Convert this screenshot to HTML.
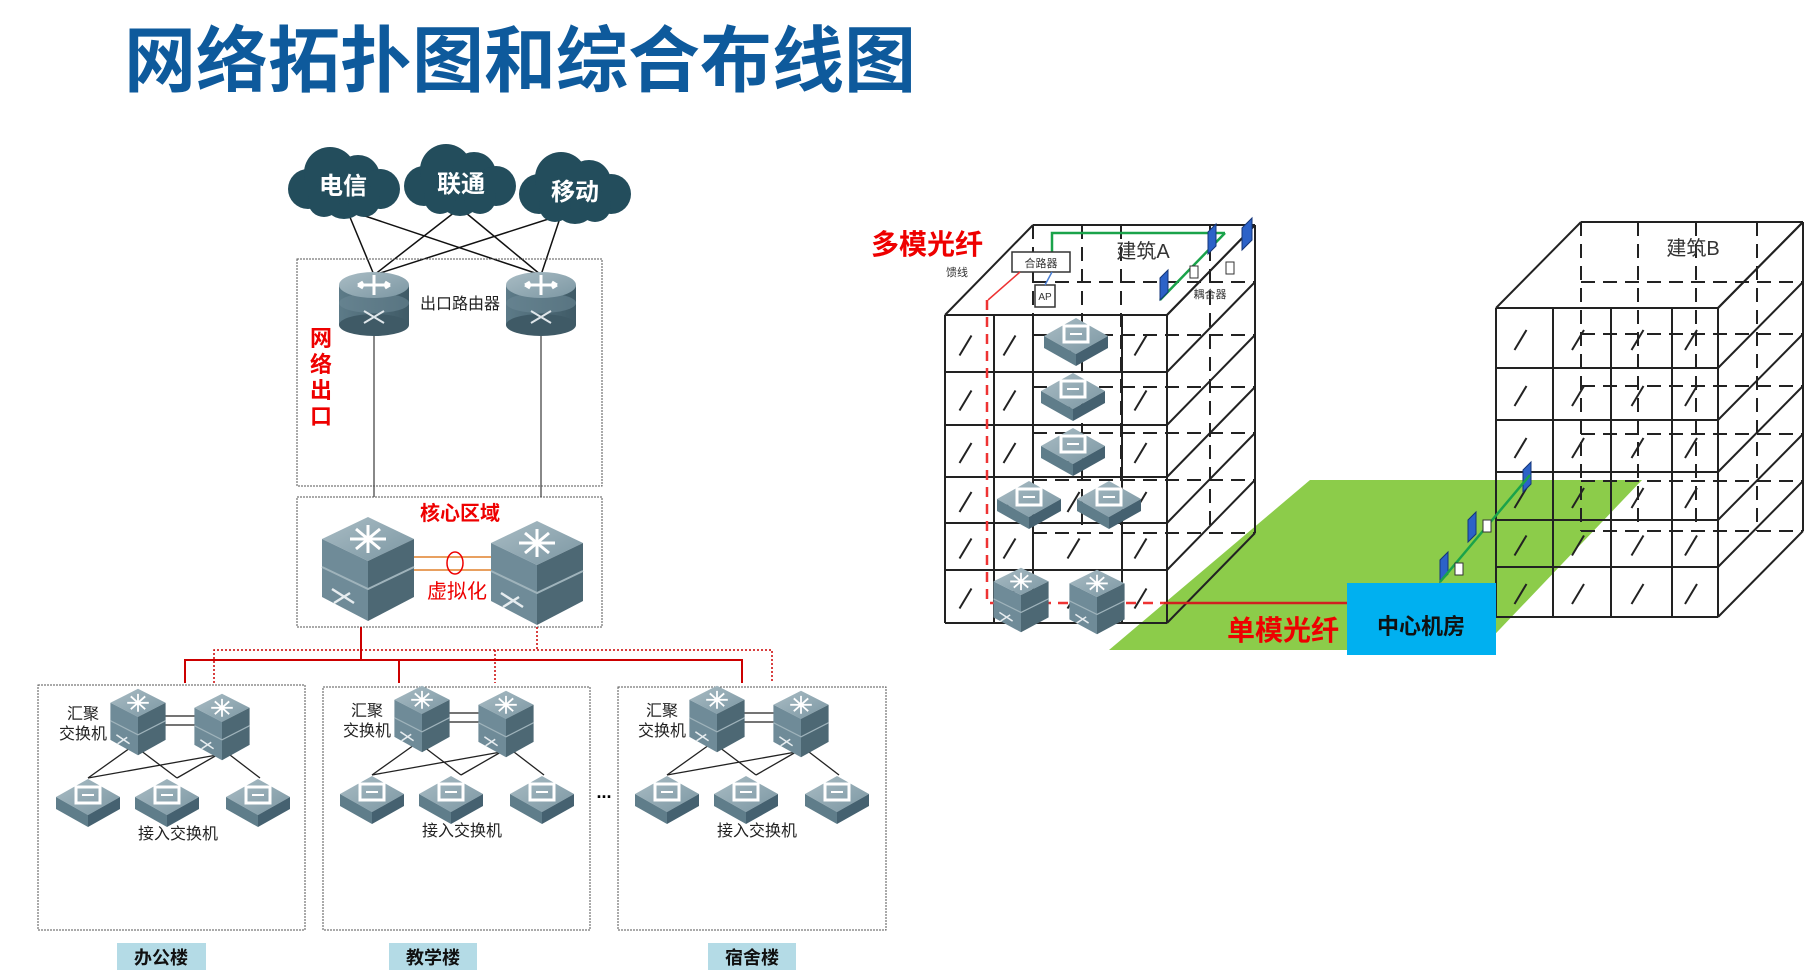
<!DOCTYPE html>
<html><head><meta charset="utf-8">
<style>
html,body{margin:0;padding:0;background:#fff;}
svg{display:block;}
text{font-family:"Liberation Sans","Noto Sans CJK SC",sans-serif;}
</style></head>
<body>
<svg id="s" width="1814" height="980" viewBox="0 0 1814 980" xmlns="http://www.w3.org/2000/svg">
<defs>
<linearGradient id="gt" x1="0" y1="0" x2="1" y2="1"><stop offset="0" stop-color="#a9bcc4"/><stop offset="1" stop-color="#7c97a3"/></linearGradient>
<linearGradient id="gs" x1="0" y1="0" x2="1" y2="0"><stop offset="0" stop-color="#5d7b88"/><stop offset="1" stop-color="#3f5a66"/></linearGradient>
<g id="router">
 <rect x="-35" y="-18" width="70" height="40" fill="url(#gs)"/>
 <ellipse cx="0" cy="22" rx="35" ry="11" fill="#3f5a66"/>
 <ellipse cx="0" cy="0" rx="35" ry="10" fill="#6a8794" opacity="0.6"/>
 <ellipse cx="0" cy="-18" rx="35" ry="13" fill="url(#gt)"/>
 <path d="M-16,-18h32M0,-28v20M-16,-18l5,-3M-16,-18l5,3M16,-18l-5,-3M16,-18l-5,3" stroke="#fff" stroke-width="3" fill="none"/>
 <path d="M-10,8l20,12M10,8l-20,12" stroke="#dfe6ea" stroke-width="2" fill="none"/>
</g>
<g id="core">
 <polygon points="0,-52 46,-30 0,-8 -46,-30" fill="url(#gt)"/>
 <polygon points="-46,-30 0,-8 0,52 -46,28" fill="#6f8b98"/>
 <polygon points="0,-8 46,-30 46,28 0,52" fill="#4d6874"/>
 <path d="M-46,-2 0,20 46,-2" stroke="#9fb3bb" stroke-width="2" fill="none"/>
 <path d="M-18,-30h36M0,-44v28M-12,-40l24,20M12,-40l-24,20" stroke="#fff" stroke-width="3" fill="none"/>
 <path d="M-36,20l22,14M-34,34l16,-10" stroke="#e6ecef" stroke-width="2.5" fill="none"/>
</g>
<g id="acc">
 <polygon points="0,-24 32,-6 0,12 -32,-6" fill="url(#gt)"/>
 <polygon points="-32,-6 0,12 0,24 -32,6" fill="#5f7d8a"/>
 <polygon points="0,12 32,-6 32,6 0,24" fill="#456170"/>
 <rect x="-12" y="-16" width="24" height="16" fill="none" stroke="#fff" stroke-width="3"/>
 <path d="M-6,-8h12" stroke="#fff" stroke-width="2"/>
</g>
</defs>

<!-- Title -->
<text x="124" y="86" font-size="72" font-weight="bold" fill="#0e5a9c" textLength="792" lengthAdjust="spacingAndGlyphs">网络拓扑图和综合布线图</text>

<!-- cloud lines -->
<g stroke="#111" stroke-width="1.5">
<line x1="347" y1="210" x2="374" y2="275"/><line x1="347" y1="210" x2="541" y2="275"/>
<line x1="460" y1="208" x2="374" y2="275"/><line x1="460" y1="208" x2="541" y2="275"/>
<line x1="561" y1="215" x2="374" y2="275"/><line x1="561" y1="215" x2="541" y2="275"/>
<line x1="374" y1="330" x2="374" y2="497" stroke-width="1"/><line x1="541" y1="330" x2="541" y2="497" stroke-width="1"/>
</g>
<!-- clouds -->
<g fill="#234d5c">
<g transform="translate(344,185)"><circle cx="-36" cy="4" r="20"/><circle cx="-14" cy="-12" r="26"/><circle cx="14" cy="-8" r="22"/><circle cx="36" cy="4" r="20"/><circle cx="0" cy="12" r="22"/><circle cx="-20" cy="16" r="16"/><circle cx="20" cy="16" r="16"/></g>
<g transform="translate(460,182)"><circle cx="-36" cy="4" r="20"/><circle cx="-14" cy="-12" r="26"/><circle cx="14" cy="-8" r="22"/><circle cx="36" cy="4" r="20"/><circle cx="0" cy="12" r="22"/><circle cx="-20" cy="16" r="16"/><circle cx="20" cy="16" r="16"/></g>
<g transform="translate(575,190)"><circle cx="-36" cy="4" r="20"/><circle cx="-14" cy="-12" r="26"/><circle cx="14" cy="-8" r="22"/><circle cx="36" cy="4" r="20"/><circle cx="0" cy="12" r="22"/><circle cx="-20" cy="16" r="16"/><circle cx="20" cy="16" r="16"/></g>
</g>
<g fill="#fff" font-size="24" font-weight="bold" text-anchor="middle">
<text x="343" y="194">电信</text><text x="461" y="192">联通</text><text x="575" y="200">移动</text>
</g>

<!-- exit box -->
<rect x="297" y="259" width="305" height="227" fill="none" stroke="#555" stroke-dasharray="2,1"/>
<use href="#router" x="374" y="303"/>
<use href="#router" x="541" y="303"/>
<text x="460" y="309" font-size="16" text-anchor="middle" fill="#222">出口路由器</text>
<g fill="#e00" font-size="22" font-weight="bold" text-anchor="middle">
<text x="321" y="346">网</text><text x="321" y="372">络</text><text x="321" y="398">出</text><text x="321" y="424">口</text>
</g>

<!-- core box -->
<rect x="297" y="497" width="305" height="130" fill="none" stroke="#555" stroke-dasharray="2,1"/>
<text x="460" y="520" font-size="20" font-weight="bold" fill="#e00" text-anchor="middle">核心区域</text>
<g stroke="#e8a060" stroke-width="2"><line x1="412" y1="557" x2="497" y2="557"/><line x1="412" y1="570" x2="497" y2="570"/></g>
<ellipse cx="455" cy="563" rx="8" ry="11" fill="none" stroke="#e00" stroke-width="1.5"/>
<use href="#core" x="368" y="569"/>
<use href="#core" x="537" y="573"/>
<text x="457" y="598" font-size="20" fill="#e00" text-anchor="middle">虚拟化</text>

<!-- red distribution lines -->
<g stroke="#c00" stroke-width="2" fill="none">
<path d="M361,627V660M185,683V660H742V683M399,660V683"/>
</g>
<g stroke="#c00" stroke-width="1.5" fill="none" stroke-dasharray="2,2">
<path d="M537,627V650M214,683V650H772V683M495,650V683"/>
</g>

<!-- building boxes -->
<g fill="none" stroke="#555" stroke-dasharray="2,1">
<rect x="38" y="685" width="267" height="245"/>
<rect x="323" y="687" width="267" height="243"/>
<rect x="618" y="687" width="268" height="243"/>
</g>
<text x="604" y="798" font-size="18" font-weight="bold" text-anchor="middle">...</text>

<g id="grp">
<g stroke="#222" stroke-width="1.3">
<line x1="130" y1="748" x2="88" y2="778"/><line x1="140" y1="750" x2="177" y2="778"/>
<line x1="217" y1="755" x2="88" y2="778"/><line x1="217" y1="755" x2="177" y2="778"/><line x1="230" y1="755" x2="260" y2="778"/>
<line x1="165" y1="716" x2="196" y2="716"/><line x1="165" y1="725" x2="196" y2="725"/>
</g>
<g transform="translate(138,722) scale(0.6,0.64)"><use href="#core"/></g>
<g transform="translate(222,727) scale(0.6,0.64)"><use href="#core"/></g>
<use href="#acc" x="88" y="803"/><use href="#acc" x="167" y="803"/><use href="#acc" x="258" y="803"/>
<text x="83" y="719" font-size="16" text-anchor="middle" fill="#222">汇聚</text>
<text x="83" y="739" font-size="16" text-anchor="middle" fill="#222">交换机</text>
<text x="178" y="839" font-size="16" text-anchor="middle" fill="#222">接入交换机</text>
</g>
<use href="#grp" x="284" y="-3"/>
<use href="#grp" x="579" y="-3"/>

<g font-size="18" font-weight="bold" text-anchor="middle" fill="#111">
<rect x="117" y="943" width="89" height="27" fill="#b4dbe6"/><text x="161" y="964">办公楼</text>
<rect x="389" y="943" width="88" height="27" fill="#b4dbe6"/><text x="433" y="964">教学楼</text>
<rect x="708" y="943" width="88" height="27" fill="#b4dbe6"/><text x="752" y="964">宿舍楼</text>
</g>

<!-- right side -->
<polygon points="1109,650 1310,480 1642,480 1480,650" fill="#8ccc4a"/>
<g id="bldA" stroke="#222" stroke-width="2" fill="none"></g>
<g id="bldB" stroke="#222" stroke-width="2" fill="none"></g>

<!-- building A details -->
<path d="M1052,262V233H1225" stroke="#1aa34a" stroke-width="2.5" fill="none"/>
<path d="M1160,300L1225,233" stroke="#1aa34a" stroke-width="2.5"/>
<rect x="1012" y="252" width="58" height="20" fill="#fff" stroke="#333" stroke-width="1.5"/>
<text x="1041" y="267" font-size="11" text-anchor="middle" fill="#333">合路器</text>
<rect x="1035" y="285" width="20" height="22" fill="#fff" stroke="#333" stroke-width="1.5"/>
<text x="1045" y="300" font-size="10" text-anchor="middle" fill="#333">AP</text>
<path d="M1045,285L1052,272" stroke="#4a7fd4" stroke-width="1.5"/>
<path d="M1020,272L988,300" stroke="#e33" stroke-width="1.5"/>
<text x="957" y="276" font-size="11" text-anchor="middle" fill="#333">馈线</text>
<text x="1143" y="258" font-size="20" text-anchor="middle" fill="#333">建筑A</text>
<text x="1210" y="298" font-size="11" text-anchor="middle" fill="#333">耦合器</text>
<g fill="#2c62c8" stroke="#14357a" stroke-width="1">
<polygon points="1160,278 1168,270 1168,292 1160,300"/>
<polygon points="1208,232 1216,224 1216,246 1208,254"/>
<polygon points="1242,228 1252,218 1252,240 1242,250"/>
<polygon points="1523,470 1531,462 1531,484 1523,492"/>
<polygon points="1468,520 1476,512 1476,534 1468,542"/>
<polygon points="1440,560 1448,552 1448,574 1440,582"/>
</g>
<path d="M1440,582L1530,475" stroke="#1aa34a" stroke-width="2.5"/>
<g fill="#fff" stroke="#333"><rect x="1483" y="520" width="8" height="12"/><rect x="1455" y="563" width="8" height="12"/><rect x="1226" y="262" width="8" height="12"/><rect x="1190" y="266" width="8" height="12"/></g>
<path d="M987,300V603H1164" stroke="#e33" stroke-width="2.5" stroke-dasharray="10,7" fill="none"/>
<line x1="1164" y1="603" x2="1347" y2="603" stroke="#d02020" stroke-width="2.5"/>
<use href="#acc" x="1076" y="342"/><use href="#acc" x="1073" y="397"/><use href="#acc" x="1073" y="452"/>
<use href="#acc" x="1029" y="505"/><use href="#acc" x="1109" y="505"/>
<g transform="translate(1021,600) scale(0.6,0.62)"><use href="#core"/></g>
<g transform="translate(1097,602) scale(0.6,0.62)"><use href="#core"/></g>
<text x="1693" y="255" font-size="20" text-anchor="middle" fill="#333">建筑B</text>

<rect x="1347" y="583" width="149" height="72" fill="#00b0f0"/>
<text x="1421" y="634" font-size="22" font-weight="bold" text-anchor="middle" fill="#111">中心机房</text>
<text x="1283" y="640" font-size="28" font-weight="bold" text-anchor="middle" fill="#e00">单模光纤</text>
<text x="927" y="254" font-size="28" font-weight="bold" text-anchor="middle" fill="#e00">多模光纤</text>
</svg>
<script>
function bld(id,xs,ys,dx,dy){
 var g=document.getElementById(id),h='';
 var x0=xs[0],x1=xs[xs.length-1],y0=ys[0],y1=ys[ys.length-1];
 function L(a,b,c,d,dash){h+='<line x1="'+a+'" y1="'+b+'" x2="'+c+'" y2="'+d+'"'+(dash?' stroke-dasharray="14,8"':'')+'/>';}
 // back dashed
 xs.forEach(function(x){L(x+dx,y0+dy,x+dx,y1+dy,1);});
 ys.forEach(function(y){L(x0+dx,y+dy,x1+dx,y+dy,1);});
 // front
 xs.forEach(function(x){L(x,y0,x,y1);});
 ys.forEach(function(y){L(x0,y,x1,y);});
 // top
 L(x0,y0,x0+dx,y0+dy);L(x1,y0,x1+dx,y0+dy);L(x0+dx,y0+dy,x1+dx,y0+dy);
 // side
 L(x1+dx,y0+dy,x1+dx,y1+dy);
 ys.forEach(function(y){L(x1,y,x1+dx,y+dy);});
 // slashes
 for(var i=0;i<xs.length-1;i++)for(var j=0;j<ys.length-1;j++){
  var cx=(xs[i]+xs[i+1])/2,cy=(ys[j]+ys[j+1])/2;L(cx-10,cy+12,cx+2,cy-8);}
 g.innerHTML=h;
}
bld('bldA',[945,994,1033,1122,1167],[315,372,425,477,523,570,623],88,-90);
bld('bldB',[1496,1553,1611,1672,1718],[308,368,420,472,520,567,617],85,-86);
</script>
</body></html>
